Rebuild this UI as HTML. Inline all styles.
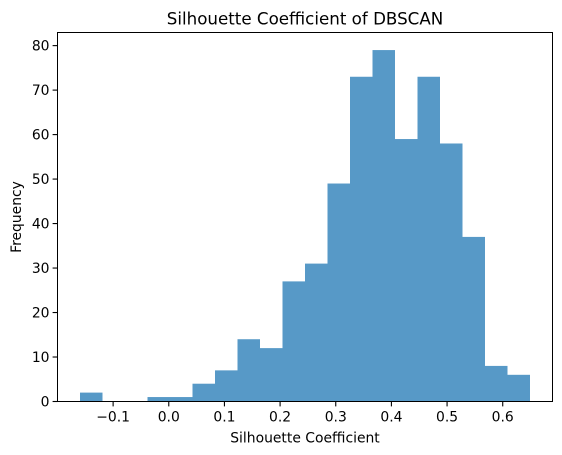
<!DOCTYPE html>
<html><head><meta charset="utf-8"><style>
html,body{margin:0;padding:0;background:#fff;}
svg{display:block;font-family:"DejaVu Sans","Liberation Sans",sans-serif;}
</style></head><body>
<svg id="chart" width="562" height="455"></svg>
<script>
const counts = [2,0,0,1,1,4,7,14,12,27,31,49,73,79,59,73,58,37,8,6];
const binMin = -0.1595;
const binMax = 0.649;
const xTicks = [-0.1,0.0,0.1,0.2,0.3,0.4,0.5,0.6];
const xTickLabels = ["\u22120.1","0.0","0.1","0.2","0.3","0.4","0.5","0.6"];
const yTicks = [0,10,20,30,40,50,60,70,80];

const L=57.5,R=552.5,T=32.5,B=401.5;
const range=binMax-binMin, xlo=binMin-0.05*range, xhi=binMax+0.05*range;
const ymax=Math.max(...counts)*1.05;
const sx=v=>L+(v-xlo)/(xhi-xlo)*(R-L);
const sy=v=>B-v/ymax*(B-T);
const NS="http://www.w3.org/2000/svg";
const svg=document.getElementById('chart');
function mk(tag,attrs,parent){const e=document.createElementNS(NS,tag);for(const k in attrs)e.setAttribute(k,attrs[k]);(parent||svg).appendChild(e);return e;}

const bars=mk('g',{});


const w=range/counts.length;
counts.forEach((c,i)=>{
  if(c<=0) return;
  const x0=sx(binMin+i*w), x1=sx(binMin+(i+1)*w);
  const r=mk('rect',{x:x0,y:sy(c),width:x1-x0,height:B-sy(c),fill:'#5799c7'},bars);
  
  
});

const frame=mk('rect',{x:L,y:T,width:R-L,height:B-T,fill:'none',stroke:'#000','stroke-width':1});



xTicks.forEach((v,i)=>{
  const x=sx(v);
  mk('line',{x1:x,x2:x,y1:B,y2:B+4.9,stroke:'#000','stroke-width':1.1});
  const t=mk('text',{x:x,y:B+20,'text-anchor':'middle','font-size':13.9});
  t.textContent=xTickLabels[i];
  
  
});
yTicks.forEach(v=>{
  const y=sy(v);
  mk('line',{x1:L-4.9,x2:L,y1:y,y2:y,stroke:'#000','stroke-width':1.1});
  const t=mk('text',{x:L-8,y:y+5,'text-anchor':'end','font-size':13.9});
  t.textContent=v;
  
  
});
const title=mk('text',{x:(L+R)/2,y:T-8,'text-anchor':'middle','font-size':16.7});
title.textContent='Silhouette Coefficient of DBSCAN';


const xl=mk('text',{x:(L+R)/2,y:B+41,'text-anchor':'middle','font-size':13.9});
xl.textContent='Silhouette Coefficient';


const yl=mk('text',{x:0,y:0,'text-anchor':'middle','font-size':13.9,transform:`translate(21,${(T+B)/2}) rotate(-90)`});
yl.textContent='Frequency';


</script>
</body></html>
